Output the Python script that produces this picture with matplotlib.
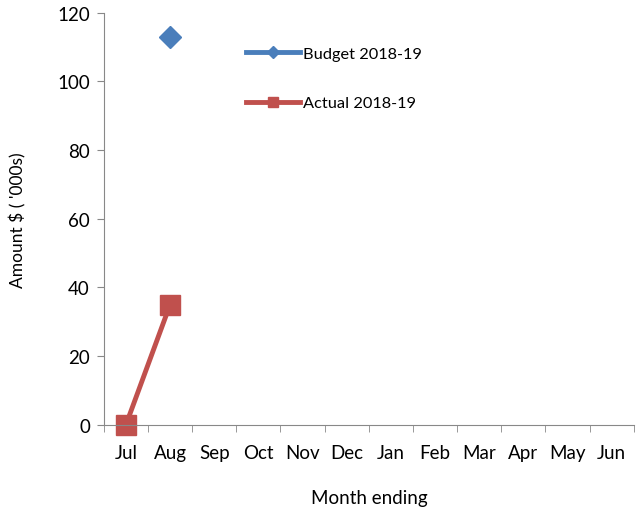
import matplotlib.pyplot as plt

plt.rcParams['font.family'] = ['Lato', 'DejaVu Sans']

# Monthly data, financial year 2018-19
months = ['Jul', 'Aug', 'Sep', 'Oct', 'Nov', 'Dec', 'Jan', 'Feb', 'Mar', 'Apr', 'May', 'Jun']
budget = [None, 113]
actual = [0, 35]

fig = plt.figure(figsize=(6.37, 5.10), dpi=100)
ax = fig.add_axes([0.163, 0.165, 0.832, 0.808])

xb = [i for i, v in enumerate(budget) if v is not None]
yb = [v for v in budget if v is not None]
ax.plot(xb, yb, color='#4a7ebb', linewidth=3.5, marker='D', markersize=11,
        label='Budget 2018-19')
ax.plot(range(len(actual)), actual, color='#c0504d', linewidth=3.5, marker='s',
        markersize=14, label='Actual 2018-19', clip_on=False)

ax.set_xlim(-0.5, 11.5)
ax.set_ylim(0, 120)
ax.set_yticks(range(0, 121, 20))
ax.set_xticks(range(len(months)))
ax.set_xticklabels(months)
ax.set_xticks([i - 0.5 for i in range(len(months) + 1)], minor=True)
ax.tick_params(axis='x', which='major', length=0, pad=14, labelsize=13.5)
ax.tick_params(axis='x', which='minor', length=5, color='#888888')
ax.tick_params(axis='y', length=5, color='#888888', labelsize=13.5, pad=5)

for side in ['top', 'right']:
    ax.spines[side].set_visible(False)
for side in ['left', 'bottom']:
    ax.spines[side].set_color('#888888')

ax.set_xlabel('Month ending', fontsize=13.5, labelpad=20)
ax.set_ylabel("Amount $ ( '000s)", fontsize=12.5, labelpad=22)

leg = ax.legend(loc='upper left', bbox_to_anchor=(0.24, 0.955), frameon=False,
                fontsize=11.8, handlelength=3.3, labelspacing=2.15, handletextpad=0.2,
                markerscale=0.55)

plt.savefig('out.png', dpi=100)
